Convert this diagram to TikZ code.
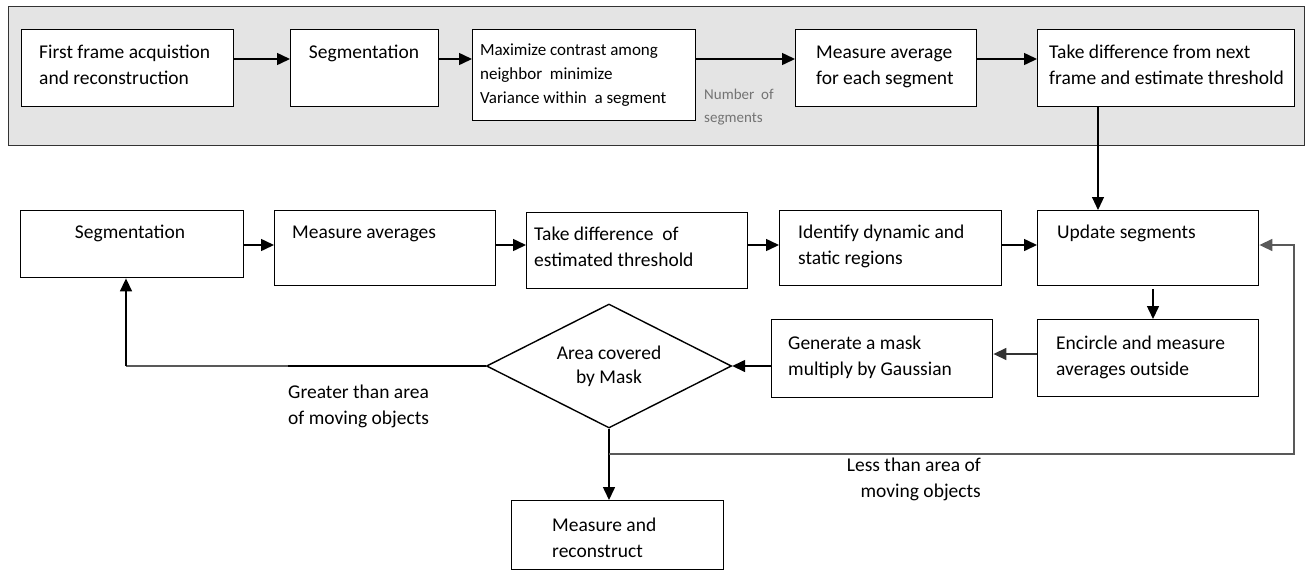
\documentclass[tikz,border=0pt]{standalone}
\usepackage{fontspec}
\setmainfont{Carlito}
\usetikzlibrary{arrows.meta,shapes.geometric,calc}
\begin{document}
\begin{tikzpicture}[x=1pt,y=-1pt,
  box/.style={draw=black,line width=1.4pt,inner sep=0pt,anchor=north west},
  txt/.style={inner sep=0pt,anchor=north west,align=left,font=\fontsize{19.5}{26}\selectfont},
  smalltxt/.style={inner sep=0pt,anchor=north west,align=left,font=\fontsize{17}{24}\selectfont},
  tip/.style={-{Triangle[length=13pt,width=12pt]}},
  arr/.style={line width=1.5pt,tip},
  thinarr/.style={line width=1.1pt,tip},
  retline/.style={line width=1.6pt,draw=black!65}
]
\useasboundingbox (0,0) rectangle (1305,571);
% shaded band
\node[box,draw=black!80,line width=1.2pt,fill={rgb,255:red,228;green,228;blue,228},minimum width=1296pt,minimum height=139pt] (band) at (8,6) {};
% top row boxes
\node[box,fill=white,minimum width=212pt,minimum height=77pt] (b1) at (21,29) {};
\node[box,fill=white,minimum width=148pt,minimum height=77pt] (b2) at (290,29) {};
\node[box,fill=white,minimum width=223pt,minimum height=91pt] (b3) at (472,29) {};
\node[box,fill=white,minimum width=181pt,minimum height=77pt] (b4) at (795,29) {};
\node[box,fill=white,minimum width=257pt,minimum height=77pt] (b5) at (1037,29) {};
\node[txt] (t1) at (39,40) {\strut First frame acquistion\\and reconstruction};
\node[txt,anchor=north] (t2) at (364,40) {\strut Segmentation};
\node[smalltxt] (t3) at (480,38) {\strut Maximize contrast among\\neighbor\ \ minimize\\Variance within\ \ a segment};
\node[txt] (t4) at (816,40) {\strut Measure average\\for each segment};
\node[txt] (t5) at (1049,40) {\strut Take difference from next\\frame and estimate threshold};
\node[inner sep=0pt,anchor=north west,align=left,text=black!55,font=\fontsize{15}{23}\selectfont] (nseg) at (704,83) {\strut Number\ \ of\\segments};
% second row
\node[box,minimum width=223pt,minimum height=67pt] (s) at (20,210) {};
\node[box,minimum width=221pt,minimum height=75pt] (m) at (274,210) {};
\node[box,minimum width=221pt,minimum height=76pt] (t) at (526,212) {};
\node[box,minimum width=222pt,minimum height=75pt] (i) at (779,210) {};
\node[box,minimum width=221pt,minimum height=75pt] (u) at (1037,210) {};
\node[box,minimum width=221pt,minimum height=77pt] (e) at (1037,319) {};
\node[box,minimum width=221pt,minimum height=78pt] (g) at (771,319) {};
\node[box,minimum width=212pt,minimum height=69pt] (mr) at (511,500) {};
\node[draw=black,line width=1.4pt,diamond,aspect=1.98,inner sep=0pt,minimum width=245pt,minimum height=124pt,align=center,font=\fontsize{19.5}{24}\selectfont] (d) at (609,366) {Area covered\\by Mask};
\node[txt,anchor=north] (ts) at (130,220) {\strut Segmentation};
\node[txt] (tm) at (292,220) {\strut Measure averages};
\node[txt] (tt) at (534,222) {\strut Take difference\ \ of\\estimated threshold};
\node[txt] (ti) at (798,220) {\strut Identify dynamic and\\static regions};
\node[txt] (tu) at (1057,220) {\strut Update segments};
\node[txt] (te) at (1056,331) {\strut Encircle and measure\\averages outside};
\node[txt] (tg) at (788,331) {\strut Generate a mask\\multiply by Gaussian};
\node[txt] (tmr) at (552,513) {\strut Measure and\\reconstruct};
\node[txt] (gt) at (288,380) {\strut Greater than area\\of moving objects};
\node[txt,anchor=north east,align=right] (lt) at (981,453) {\strut Less than area of\\moving objects};
% coordinates
\coordinate (r1) at (0,59);
\coordinate (r2) at (0,245);
\coordinate (r3) at (0,354);
\coordinate (cL) at (126,366);
\coordinate (cB) at (609,454);
\coordinate (cR) at (1294,454);
\coordinate (v5) at (1098,0);
\coordinate (vu) at (1153,0);
% top row arrows
\draw[arr] (b1.east |- r1) -- (b2.west |- r1);
\draw[arr] (b2.east |- r1) -- (b3.west |- r1);
\draw[arr] (b3.east |- r1) -- (b4.west |- r1);
\draw[arr] (b4.east |- r1) -- (b5.west |- r1);
\draw[thinarr] (b5.south -| v5) -- (u.north -| v5);
% second row arrows
\draw[arr] (s.east |- r2) -- (m.west |- r2);
\draw[arr] (m.east |- r2) -- (t.west |- r2);
\draw[arr] (t.east |- r2) -- (i.west |- r2);
\draw[arr] (i.east |- r2) -- (u.west |- r2);
\draw[arr] ([yshift=-3pt]u.south -| vu) -- (e.north -| vu);
\draw[arr,draw=black!80] (e.west |- r3) -- (g.east |- r3);
\draw[arr] (g.west |- d.east) -- (d.east);
% decision branches
\draw[retline] (d.west) -- (cL);
\draw[line width=1.6pt] (d.west) -- ($(d.west)!0.55!(cL)$);
\draw[arr] (cL) -- (cL |- s.south);
\draw[arr] (d.south) -- (d.south |- mr.north);
\draw[retline,tip] (cB) -- (cR) -- (cR |- r2) -- (u.east |- r2);
\end{tikzpicture}
\end{document}
